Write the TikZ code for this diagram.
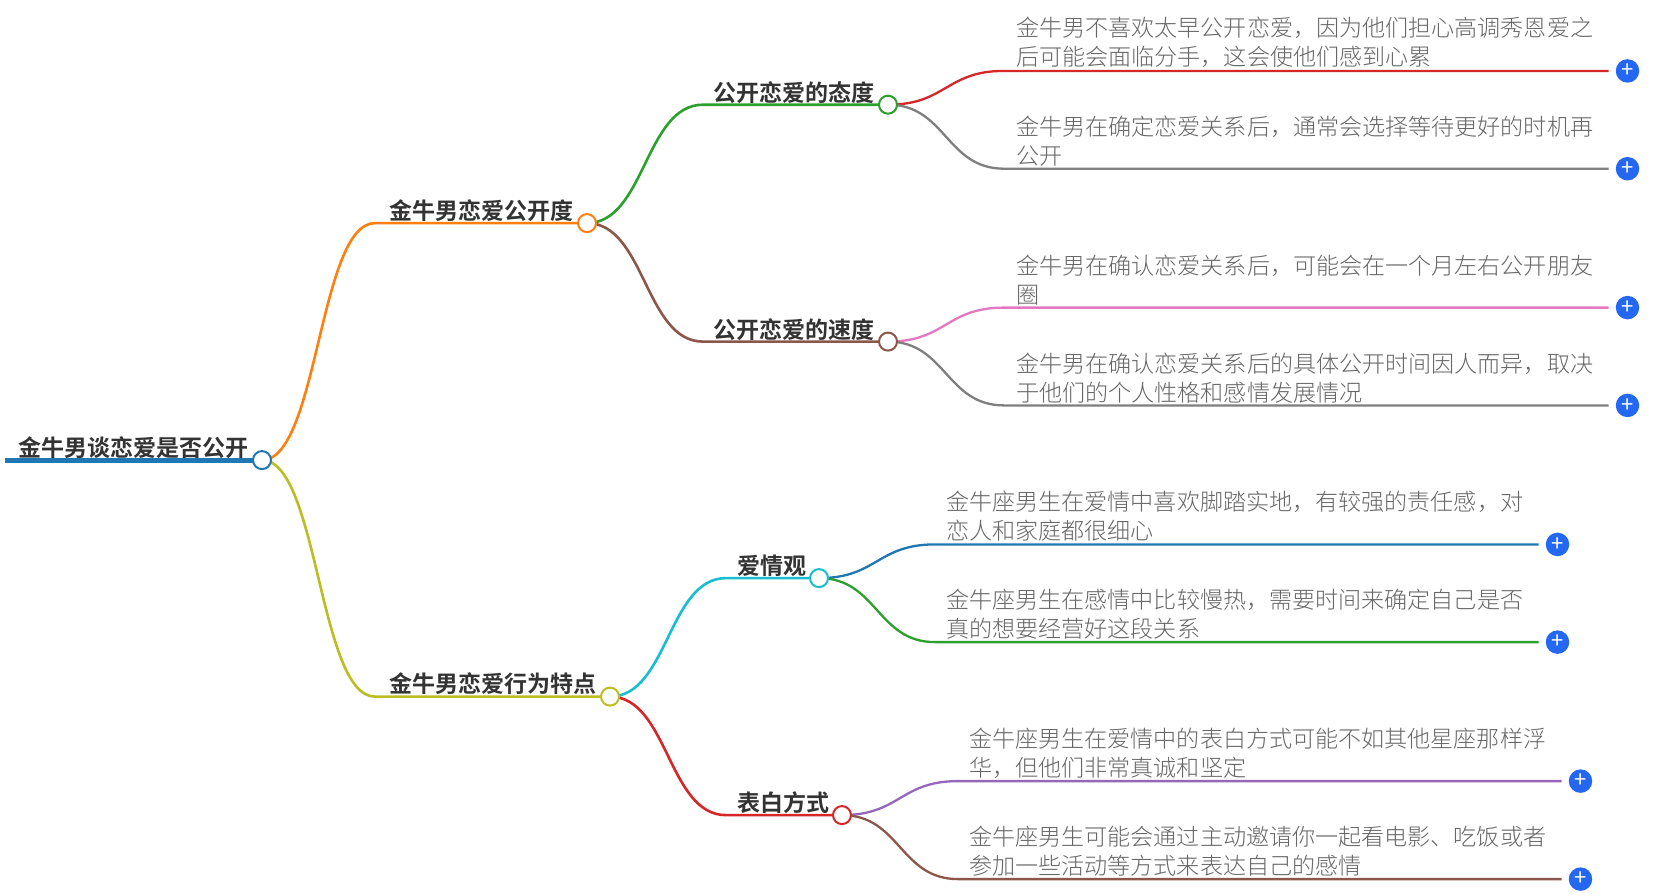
\documentclass[tikz,border=0pt]{standalone}
\usepackage{fontspec}
\usetikzlibrary{calc}
\setmainfont{Noto Sans CJK SC}
\newfontfamily\boldcjk{Noto Sans CJK SC Bold}
\newfontfamily\lightcjk{Noto Sans CJK SC Light}
\begin{document}
\begin{tikzpicture}[x=1pt,y=-1pt,
  hub/.style={circle,draw=#1,fill=white,line width=2pt,minimum size=18pt,inner sep=0pt},
  plus/.style={circle,fill=plusblue,text=white,minimum size=23.5pt,inner sep=0pt,font=\fontsize{22}{22}\selectfont},
  branch/.style={draw=#1,line width=2.6pt},
  twig/.style={draw=#1,line width=2.3pt},
  head/.style={anchor=base west,inner sep=0pt,text=headtext,font=\boldcjk\fontsize{23}{23}\selectfont},
  body/.style={anchor=south west,inner sep=0pt,align=left,text=bodytext,font=\lightcjk\fontsize{23.08}{29}\selectfont}]
\definecolor{c1}{HTML}{1F77B4}\definecolor{c2}{HTML}{FF7F0E}\definecolor{c3}{HTML}{2CA02C}
\definecolor{c4}{HTML}{D62728}\definecolor{c5}{HTML}{9467BD}\definecolor{c6}{HTML}{8C564B}
\definecolor{c7}{HTML}{E377C2}\definecolor{c8}{HTML}{7F7F7F}\definecolor{c9}{HTML}{BCBD22}
\definecolor{c10}{HTML}{17BECF}\definecolor{plusblue}{HTML}{2468F2}
\definecolor{headtext}{HTML}{333333}\definecolor{bodytext}{HTML}{666666}
\useasboundingbox[fill=white] (0,0) rectangle (1657,895);
\begin{scope}[yshift=-0.1pt]
% anchors
\coordinate (r0) at (5,460);
\coordinate (r) at (262,460);
\coordinate (a) at (587,223);
\coordinate (b) at (610,696.5);
\coordinate (a1) at (888,104.6);
\coordinate (a2) at (888,341.5);
\coordinate (b1) at (819,578);
\coordinate (b2) at (842,815);
\coordinate (as) at (375,223);
\coordinate (bs) at (375,696.5);
\coordinate (a1s) at (703,104.6);
\coordinate (a2s) at (703,341.5);
\coordinate (b1s) at (726,578);
\coordinate (b2s) at (726,815);
% leaf line starts and plus buttons
\coordinate (l1) at (1004,70.8);
\coordinate (l2) at (1004,168.6);
\coordinate (l3) at (1004,307.5);
\coordinate (l4) at (1004,405.3);
\coordinate (l5) at (935,544.3);
\coordinate (l6) at (935,642);
\coordinate (l7) at (958,781);
\coordinate (l8) at (958,879);
\node[plus] (p1) at (1627.5,70.8) {+};
\node[plus] (p2) at (1627.5,168.6) {+};
\node[plus] (p3) at (1627.5,307.5) {+};
\node[plus] (p4) at (1627.5,405.3) {+};
\node[plus] (p5) at (1557.5,544.3) {+};
\node[plus] (p6) at (1557.5,642) {+};
\node[plus] (p7) at (1580.5,781) {+};
\node[plus] (p8) at (1580.5,879) {+};
% connectors
\path[line width=5pt,draw=c1] (r0) -- (r);
\path[branch=c2] (r) .. controls (318,460) and (319,223) .. (as) -- (a);
\path[branch=c9] (r) .. controls (318,460) and (319,696.5) .. (bs) -- (b);
\path[branch=c3] (a) .. controls (645,223) and (645,104.6) .. (a1s) -- (a1);
\path[branch=c6] (a) .. controls (645,223) and (645,341.5) .. (a2s) -- (a2);
\path[branch=c10] (b) .. controls (668,696.5) and (668,578) .. (b1s) -- (b1);
\path[branch=c4] (b) .. controls (668,696.5) and (668,815) .. (b2s) -- (b2);
\path[twig=c4] (a1) .. controls (946,104.6) and (946,70.8) .. (l1) -- ($(p1.west)+(-7,0)$);
\path[twig=c8] (a1) .. controls (946,104.6) and (946,168.6) .. (l2) -- ($(p2.west)+(-7,0)$);
\path[twig=c7] (a2) .. controls (946,341.5) and (946,307.5) .. (l3) -- ($(p3.west)+(-7,0)$);
\path[twig=c8] (a2) .. controls (946,341.5) and (946,405.3) .. (l4) -- ($(p4.west)+(-7,0)$);
\path[twig=c1] (b1) .. controls (877,578) and (877,544.3) .. (l5) -- ($(p5.west)+(-7,0)$);
\path[twig=c3] (b1) .. controls (877,578) and (877,642) .. (l6) -- ($(p6.west)+(-7,0)$);
\path[twig=c5] (b2) .. controls (900,815) and (900,781) .. (l7) -- ($(p7.west)+(-7,0)$);
\path[twig=c6] (b2) .. controls (900,815) and (900,879) .. (l8) -- ($(p8.west)+(-7,0)$);
% hubs
\node[hub=c1] (rh) at (r) {};
\node[hub=c2] (ah) at (a) {};
\node[hub=c9] (bh) at (b) {};
\node[hub=c3] (a1h) at (a1) {};
\node[hub=c6] (a2h) at (a2) {};
\node[hub=c10] (b1h) at (b1) {};
\node[hub=c4] (b2h) at (b2) {};
% headings
\node[head] (tr) at (18,456) {金牛男谈恋爱是否公开};
\node[head] (ta) at (389,219) {金牛男恋爱公开度};
\node[head] (tb) at (389,692) {金牛男恋爱行为特点};
\node[head] (ta1) at (713,101) {公开恋爱的态度};
\node[head] (ta2) at (713,338) {公开恋爱的速度};
\node[head] (tb1) at (737,574) {爱情观};
\node[head] (tb2) at (737,811) {表白方式};
% leaf texts
\node[body] (t1) at (1016,67.5) {金牛男不喜欢太早公开恋爱，因为他们担心高调秀恩爱之\\后可能会面临分手，这会使他们感到心累};
\node[body] (t2) at (1016,166) {金牛男在确定恋爱关系后，通常会选择等待更好的时机再\\公开};
\node[body] (t3) at (1016,305) {金牛男在确认恋爱关系后，可能会在一个月左右公开朋友\\圈};
\node[body] (t4) at (1016,403) {金牛男在确认恋爱关系后的具体公开时间因人而异，取决\\于他们的个人性格和感情发展情况};
\node[body] (t5) at (946,541) {金牛座男生在爱情中喜欢脚踏实地，有较强的责任感，对\\恋人和家庭都很细心};
\node[body] (t6) at (946,639.5) {金牛座男生在感情中比较慢热，需要时间来确定自己是否\\真的想要经营好这段关系};
\node[body] (t7) at (969,778.5) {金牛座男生在爱情中的表白方式可能不如其他星座那样浮\\华，但他们非常真诚和坚定};
\node[body] (t8) at (969,876.5) {金牛座男生可能会通过主动邀请你一起看电影、吃饭或者\\参加一些活动等方式来表达自己的感情};
\end{scope}
\end{tikzpicture}
\end{document}
